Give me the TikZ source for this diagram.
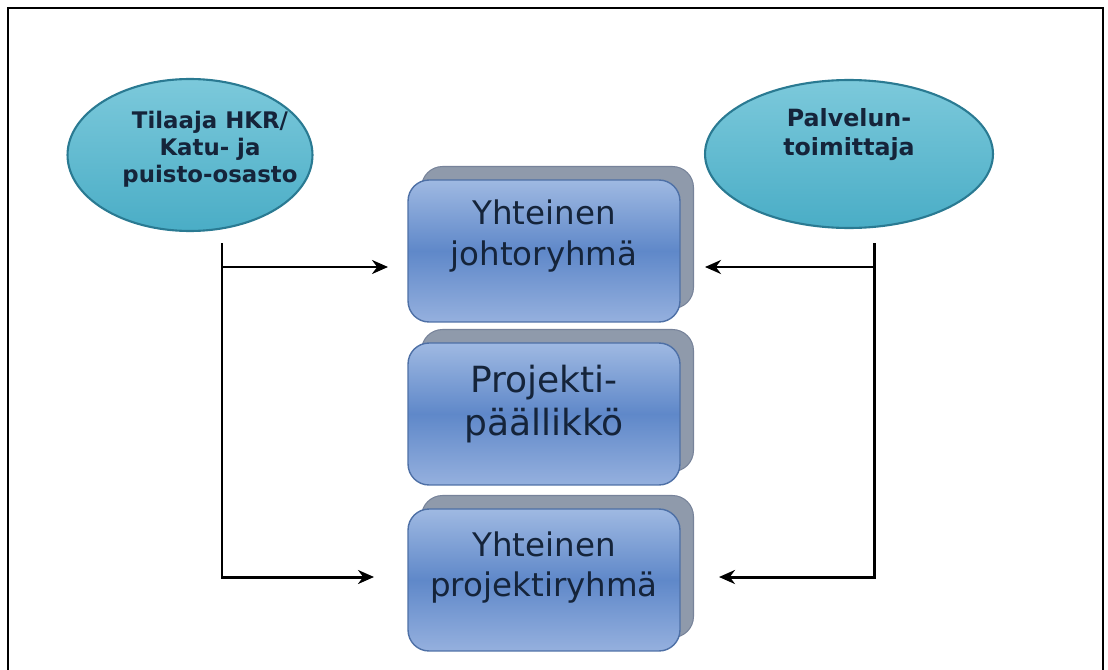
\documentclass[tikz,border=0pt]{standalone}
\usepackage{fontspec}
\setmainfont{DejaVu Sans}
\usetikzlibrary{positioning,shapes.geometric,shadows,arrows.meta}

\definecolor{tealdark}{HTML}{2A7A92}
\definecolor{tealtop}{HTML}{7CC9DB}
\definecolor{tealbot}{HTML}{4AADC6}
\definecolor{bluetop}{HTML}{9FB9E2}
\definecolor{bluemid}{HTML}{5F88C9}
\definecolor{bluebot}{HTML}{95B0DE}
\definecolor{blueedge}{HTML}{4E70A6}
\definecolor{backgray}{HTML}{8F9AAB}
\definecolor{backedge}{HTML}{77839A}
\definecolor{inktext}{HTML}{15243A}

\tikzset{
  party/.style={ellipse, draw=tealdark, line width=1.2pt, top color=tealtop, bottom color=tealbot,
    inner sep=0pt},
  partytext/.style={font=\fontsize{13}{15.5}\selectfont\bfseries, text=inktext, align=center},
  groupbox/.style={rectangle, rounded corners=0.42cm, draw=blueedge, line width=0.8pt,
    top color=bluetop, bottom color=bluebot, middle color=bluemid,
    minimum width=5.44cm, minimum height=2.84cm, inner sep=0pt,
    general shadow={shadow xshift=0.27cm, shadow yshift=0.27cm, fill=backgray, draw=backedge, line width=0.6pt}},
  grouptext/.style={align=center, text=inktext, font=\fontsize{18.5}{23}\selectfont},
  link/.style={-{Stealth[length=0.32cm, width=0.28cm]}, line width=1.7pt, black}
}

\begin{document}
\begin{tikzpicture}[x=0.02cm, y=-0.02cm]
  \useasboundingbox (0,0) rectangle (1108,669);
  % frame
  \draw[line width=1.6pt] (8,680) -- (8,8) -- (1103,8) -- (1103,680);

  % parties
  \node[party, minimum width=4.9cm, minimum height=3.04cm,
    label={[partytext, xshift=0.4cm, yshift=0.12cm]center:Tilaaja HKR/\\Katu- ja\\puisto-osasto}] (tilaaja) at (190,155) {};
  \node[party, minimum width=5.76cm, minimum height=2.96cm,
    label={[partytext, font=\fontsize{13.5}{16.5}\selectfont\bfseries, yshift=0.38cm]center:Palvelun-\\toimittaja}] (toimittaja) at (849,154) {};

  % groups
  \node[groupbox, label={[grouptext, yshift=0.3cm]center:Yhteinen\\johtoryhmä}] (johto) at (544,251) {};
  \node[groupbox, label={[grouptext, font=\fontsize{20.5}{24.5}\selectfont, yshift=0.2cm]center:Projekti-\\päällikkö}] (pp) at (544,414) {};
  \node[groupbox, label={[grouptext, yshift=0.25cm]center:Yhteinen\\projektiryhmä}] (projekti) at (544,580) {};

  % connectors
  \coordinate (lStart) at (222,243);
  \coordinate (lBranch) at (222,267);
  \coordinate (lJohto) at (388,267);
  \coordinate (lProjekti) at (374,577);
  \coordinate (rStart) at (874,243);
  \coordinate (rBranch) at (874,267);
  \coordinate (rJohto) at (705,267);
  \coordinate (rProjekti) at (719,577);

  \draw[link] (lBranch) -- (lJohto);
  \draw[link] (lStart) |- (lProjekti);
  \draw[link] (rBranch) -- (rJohto);
  \draw[link] (rStart) |- (rProjekti);
\end{tikzpicture}
\end{document}
